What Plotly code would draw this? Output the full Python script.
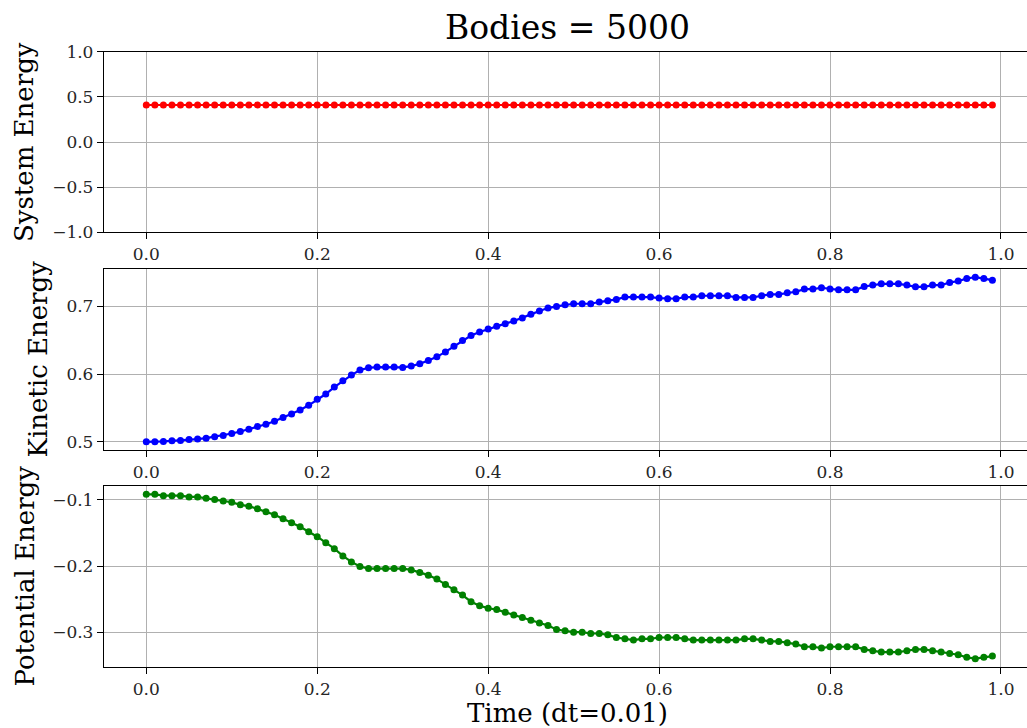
import plotly.graph_objects as go

# ---- data ----
time = [round(0.01 * i, 2) for i in range(100)]

system_energy = [
    0.41, 0.41, 0.41, 0.41, 0.41, 0.41, 0.41, 0.41, 0.41, 0.41,
    0.41, 0.41, 0.41, 0.41, 0.41, 0.41, 0.41, 0.41, 0.41, 0.41,
    0.41, 0.41, 0.41, 0.41, 0.41, 0.41, 0.41, 0.41, 0.41, 0.41,
    0.41, 0.41, 0.41, 0.41, 0.41, 0.41, 0.41, 0.41, 0.41, 0.41,
    0.41, 0.41, 0.41, 0.41, 0.41, 0.41, 0.41, 0.41, 0.41, 0.41,
    0.41, 0.41, 0.41, 0.41, 0.41, 0.41, 0.41, 0.41, 0.41, 0.41,
    0.41, 0.41, 0.41, 0.41, 0.41, 0.41, 0.41, 0.41, 0.41, 0.41,
    0.41, 0.41, 0.41, 0.41, 0.41, 0.41, 0.41, 0.41, 0.41, 0.41,
    0.41, 0.41, 0.41, 0.41, 0.41, 0.41, 0.41, 0.41, 0.41, 0.41,
    0.41, 0.41, 0.41, 0.41, 0.41, 0.41, 0.41, 0.41, 0.41, 0.41,
]

kinetic_energy = [
    0.5000, 0.5000, 0.5005, 0.5015, 0.5020, 0.5034, 0.5040, 0.5054, 0.5074, 0.5093,
    0.5123, 0.5152, 0.5186, 0.5225, 0.5260, 0.5304, 0.5358, 0.5412, 0.5471, 0.5539,
    0.5627, 0.5706, 0.5809, 0.5902, 0.5985, 0.6059, 0.6093, 0.6103, 0.6103, 0.6103,
    0.6098, 0.6118, 0.6152, 0.6201, 0.6255, 0.6328, 0.6412, 0.6495, 0.6569, 0.6623,
    0.6667, 0.6706, 0.6745, 0.6784, 0.6828, 0.6882, 0.6931, 0.6975, 0.7000, 0.7025,
    0.7039, 0.7039, 0.7039, 0.7064, 0.7083, 0.7103, 0.7137, 0.7137, 0.7137, 0.7137,
    0.7123, 0.7113, 0.7113, 0.7137, 0.7137, 0.7157, 0.7157, 0.7157, 0.7157, 0.7132,
    0.7132, 0.7132, 0.7157, 0.7176, 0.7176, 0.7201, 0.7216, 0.7255, 0.7255, 0.7275,
    0.7255, 0.7245, 0.7245, 0.7245, 0.7294, 0.7314, 0.7333, 0.7333, 0.7333, 0.7314,
    0.7289, 0.7289, 0.7314, 0.7314, 0.7353, 0.7373, 0.7412, 0.7431, 0.7412, 0.7387,
]

potential_energy = [
    -0.0920, -0.0920, -0.0940, -0.0940, -0.0940, -0.0960, -0.0960, -0.0980, -0.1000, -0.1020,
    -0.1040, -0.1079, -0.1099, -0.1139, -0.1184, -0.1229, -0.1289, -0.1349, -0.1409, -0.1484,
    -0.1558, -0.1648, -0.1738, -0.1848, -0.1938, -0.2008, -0.2038, -0.2038, -0.2038, -0.2038,
    -0.2038, -0.2058, -0.2097, -0.2137, -0.2197, -0.2277, -0.2357, -0.2437, -0.2537, -0.2596,
    -0.2636, -0.2656, -0.2696, -0.2736, -0.2776, -0.2816, -0.2856, -0.2896, -0.2956, -0.2976,
    -0.2996, -0.2996, -0.3016, -0.3016, -0.3036, -0.3076, -0.3096, -0.3115, -0.3096, -0.3096,
    -0.3076, -0.3076, -0.3076, -0.3096, -0.3115, -0.3115, -0.3115, -0.3115, -0.3115, -0.3115,
    -0.3096, -0.3096, -0.3115, -0.3135, -0.3135, -0.3155, -0.3175, -0.3215, -0.3215, -0.3235,
    -0.3215, -0.3215, -0.3215, -0.3215, -0.3255, -0.3275, -0.3295, -0.3295, -0.3295, -0.3275,
    -0.3255, -0.3255, -0.3275, -0.3295, -0.3315, -0.3335, -0.3375, -0.3395, -0.3375, -0.3355,
]

x_ticks = [0.0, 0.2, 0.4, 0.6, 0.8, 1.0]
x_ticklabels = ["0.0", "0.2", "0.4", "0.6", "0.8", "1.0"]
sys_ticks = [-1.0, -0.5, 0.0, 0.5, 1.0]
sys_ticklabels = ["\u22121.0", "\u22120.5", "0.0", "0.5", "1.0"]
kin_ticks = [0.5, 0.6, 0.7]
kin_ticklabels = ["0.5", "0.6", "0.7"]
pot_ticks = [-0.3, -0.2, -0.1]
pot_ticklabels = ["\u22120.3", "\u22120.2", "\u22120.1"]

title_text = "Bodies = 5000"
xlabel = "Time (dt=0.01)"
ylabels = ["System Energy", "Kinetic Energy", "Potential Energy"]

# ---- figure ----
W, H = 1027, 728
FONT = "DejaVu Serif"

fig = go.Figure()
series = [(system_energy, "#ff0000"), (kinetic_energy, "#0000ff"), (potential_energy, "#008000")]
for i, (vals, col) in enumerate(series):
    sfx = "" if i == 0 else str(i + 1)
    fig.add_trace(go.Scatter(
        x=time, y=vals, mode="lines+markers",
        line=dict(color=col, width=2.2),
        marker=dict(color=col, size=7),
        xaxis="x" + sfx, yaxis="y" + sfx, showlegend=False,
    ))

# pixel geometry of the axes boxes (top, bottom)
boxes = [(51.7, 232.3), (269.0, 450.0), (486.0, 667.0)]
x_left = 104.0
xr = [-0.0495, 1.0305]
yranges = [[-1.0, 1.0], [0.4879, 0.7552], [-0.352, -0.0795]]
yticks = [(sys_ticks, sys_ticklabels), (kin_ticks, kin_ticklabels), (pot_ticks, pot_ticklabels)]

axis_common = dict(
    showgrid=True, gridcolor="#b0b0b0", gridwidth=1,
    showline=True, linecolor="black", linewidth=1.3,
    ticks="outside", ticklen=6, tickwidth=1.2, tickcolor="black",
    zeroline=False, automargin=False,
    tickfont=dict(family=FONT, size=17, color="#262626"),
)

layout = dict(
    width=W, height=H, autosize=False,
    margin=dict(l=0, r=0, t=0, b=0, pad=0, autoexpand=False),
    paper_bgcolor="white", plot_bgcolor="white",
    showlegend=False,
)
for i, ((top, bot), yr, (tv, tt)) in enumerate(zip(boxes, yranges, yticks)):
    sfx = "" if i == 0 else str(i + 1)
    ydom = [1 - bot / H, 1 - top / H]
    layout["xaxis" + sfx] = dict(
        axis_common,
        domain=[x_left / W, 1.0], range=xr,
        tickvals=x_ticks, ticktext=x_ticklabels,
        anchor="y" + sfx, mirror=True,
    )
    layout["yaxis" + sfx] = dict(
        axis_common,
        domain=ydom, range=yr,
        tickvals=tv, ticktext=tt,
        anchor="x" + sfx, mirror=False,
    )

fig.update_layout(**layout)

annotations = [
    dict(text=title_text, x=567.5 / W, y=1 - 28 / H, xref="paper", yref="paper",
         xanchor="center", yanchor="middle", showarrow=False,
         font=dict(family=FONT, size=33, color="black")),
    dict(text=xlabel, x=567.5 / W, y=1 - 713 / H, xref="paper", yref="paper",
         xanchor="center", yanchor="middle", showarrow=False,
         font=dict(family=FONT, size=26, color="black")),
]
ylabel_x = [24, 37, 24]
for i, ((top, bot), lab) in enumerate(zip(boxes, ylabels)):
    annotations.append(dict(
        text=lab, x=ylabel_x[i] / W, y=1 - ((top + bot) / 2) / H,
        xref="paper", yref="paper", xanchor="center", yanchor="middle",
        textangle=-90, showarrow=False,
        font=dict(family=FONT, size=26, color="black"),
    ))
fig.update_layout(annotations=annotations)

fig.write_html("out.html")
